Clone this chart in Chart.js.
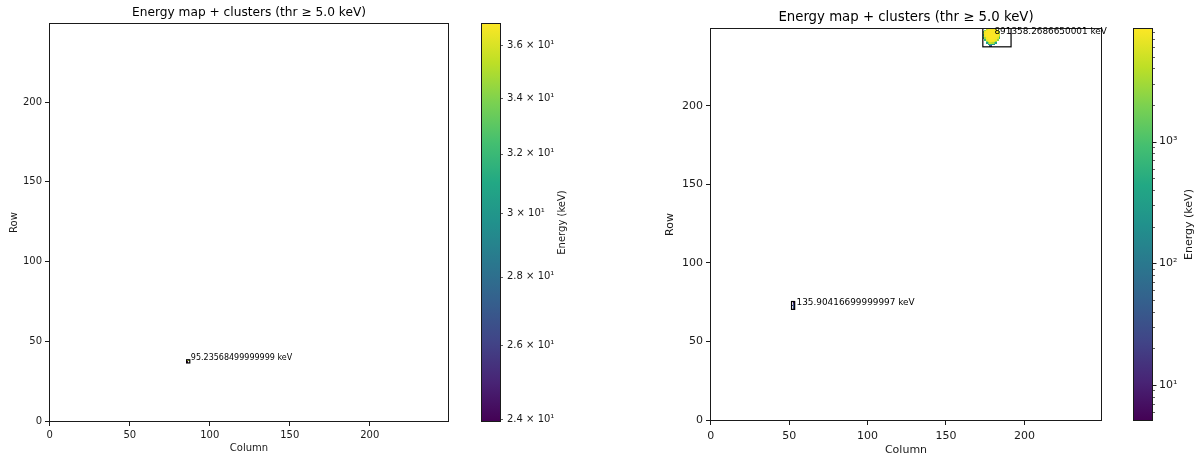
<!DOCTYPE html>
<html>
<head>
<meta charset="utf-8">
<title>Energy map + clusters</title>
<script src="https://cdn.jsdelivr.net/npm/chart.js@4.4.1/dist/chart.umd.min.js"></script>
<style>
  body { margin: 0; background: #fff; }
  #frames { position: relative; width: 1200px; height: 459px; overflow: hidden; }
  #frames canvas { position: absolute; top: 0; }
</style>
</head>
<body>
<div id="frames">
  <canvas id="mapA" width="470" height="459" style="left:0"></canvas>
  <canvas id="barA" width="130" height="459" style="left:470px"></canvas>
  <canvas id="mapB" width="470" height="459" style="left:640px"></canvas>
  <canvas id="barB" width="90" height="459" style="left:1110px"></canvas>
</div>
<script>
const TITLE = 'Energy map + clusters (thr \u2265 5.0 keV)';
const axisTicks = [0, 50, 100, 150, 200];
const AXIS_MIN = -0.5, AXIS_MAX = 249.5;

// frame A: a single small cluster (pixels above threshold)
const aCol = [86, 86, 87];
const aRow = [37, 38, 38];
const aKeV = [23.92, 36.88, 34.435685];
const aCluster = [0, 0, 0];
const aClusterKeV = [95.23568499999999];
const aBarTicks = [24, 26, 28, 30, 32, 34, 36];

// frame B: short track near (53, 73) ...
const bCol = [53, 53, 52, 53, 53, 53];
const bRow = [71, 72, 73, 73, 74, 75];
const bKeV = [19.6, 33.8, 12.4, 41.2, 22.5, 6.404167];
const bCluster = [1, 1, 1, 1, 1, 1];
// ... and the big blob clipped by the top edge, rows 249 down to 238, columns 174..191
const blobCol0 = 174;
const blobRowTop = 249;
const blobGrid = [
  [   0,    0, 5210, 7980, 8420, 8310, 8150, 7640, 6230,    0,    0, 0, 0, 0, 0, 0, 0, 0],
  [   0, 2630, 7850, 8510, 8590, 8470, 8380, 8260, 8120, 4970,    0, 0, 0, 0, 0, 0, 0, 0],
  [1240, 7410, 8330, 8560, 8600, 8540, 8490, 8410, 8320, 7560, 1480, 0, 0, 0, 0, 0, 0, 0],
  [2890, 8020, 8470, 8580, 8600, 8590, 8520, 8450, 8380, 8200, 3870, 0, 0, 0, 0, 0, 0, 5.03],
  [ 410, 7760, 8390, 8570, 8600, 8580, 8540, 8400, 8350, 8090, 4620, 0, 0, 0, 0, 0, 0, 0],
  [1830, 7230, 8250, 8530, 8590, 8560, 8470, 8330, 8290, 7880, 2150, 0, 0, 0, 0, 0, 0, 0],
  [ 260, 3140, 8010, 8420, 8510, 8490, 8380, 8150, 8060, 6480,  880, 0, 0, 0, 0, 0, 0, 0],
  [   0,  690, 7320, 8150, 8360, 8330, 8180, 7710, 7240, 2470,    0, 0, 0, 0, 0, 0, 0, 0],
  [   0,    0, 2260, 7460, 7980, 7890, 7350, 6850, 3050,    0,    0, 0, 0, 0, 0, 0, 0, 0],
  [   0,    0,  340, 1970, 4810, 4350, 3620, 1620,  390,    0,    0, 0, 0, 0, 0, 0, 0, 0],
  [   0,    0,    0,  210,  560,  480,  310,  150,    0,    0,    0, 0, 0, 0, 0, 0, 0, 0],
  [   0,    0,    0,    0,   38,   24,    0,    0,    0,    0,    0, 0, 0, 0, 0, 0, 0, 0]
];
const bClusterKeV = [135.90416699999997, 891358.2686650001];
const bBarMajor = [10, 100, 1000];
const bBarTicks = [6, 7, 8, 9, 10, 20, 30, 40, 50, 60, 70, 80, 90, 100,
  200, 300, 400, 500, 600, 700, 800, 900, 1000, 2000, 3000, 4000, 5000, 6000, 7000, 8000];

// unpack the blob grid into the pixel lists of frame B (cluster 2 -> index 1 of labels)
blobGrid.forEach((line, r) => {
  line.forEach((v, c) => {
    if (v > 0) {
      bCol.push(blobCol0 + c);
      bRow.push(blobRowTop - r);
      bKeV.push(v);
      bCluster.push(2);
    }
  });
});
bCluster.forEach((k, i) => { bCluster[i] = k - 1; });

const viridis = ['#440154', '#482475', '#414487', '#355f8d', '#2a788e', '#21918c',
  '#22a884', '#44bf70', '#7ad151', '#bddf26', '#fde725'];

function hexRgb(h) {
  return [1, 3, 5].map(i => parseInt(h.substr(i, 2), 16));
}

function viridisAt(t) {
  t = Math.min(1, Math.max(0, t)) * (viridis.length - 1);
  const i = Math.min(viridis.length - 2, Math.floor(t));
  const f = t - i;
  const a = hexRgb(viridis[i]), b = hexRgb(viridis[i + 1]);
  const c = a.map((v, j) => Math.round(v + (b[j] - v) * f));
  return `rgb(${c[0]},${c[1]},${c[2]})`;
}

Chart.defaults.font.family = 'DejaVu Sans';
Chart.defaults.color = '#1a1a1a';

// pixels, cluster boxes and energy notes drawn through the chart's own scales
function clusterLayer(frame, noteSize) {
  const vmin = Math.min(...frame.keV), vmax = Math.max(...frame.keV);
  const lo = Math.log(vmin), span = Math.log(vmax) - lo;
  const nClusters = frame.energy.length;
  return {
    id: 'clusterLayer',
    beforeDatasetsDraw(chart) {
      const {ctx, chartArea: ca, scales: {x, y}} = chart;
      ctx.save();
      ctx.beginPath();
      ctx.rect(ca.left, ca.top, ca.width, ca.height);
      ctx.clip();
      frame.col.forEach((c, i) => {
        const r = frame.row[i];
        const x0 = Math.round(x.getPixelForValue(c - 0.5));
        const x1 = Math.round(x.getPixelForValue(c + 0.5));
        const y0 = Math.round(y.getPixelForValue(r + 0.5));
        const y1 = Math.round(y.getPixelForValue(r - 0.5));
        ctx.fillStyle = viridisAt((Math.log(frame.keV[i]) - lo) / span);
        ctx.fillRect(x0, y0, Math.max(1, x1 - x0), Math.max(1, y1 - y0));
      });
      ctx.strokeStyle = '#000';
      ctx.lineWidth = 1.2;
      for (let k = 0; k < nClusters; k++) {
        const idx = frame.cluster.map((q, i) => q === k ? i : -1).filter(i => i >= 0);
        const cs = idx.map(i => frame.col[i]), rs = idx.map(i => frame.row[i]);
        const left = x.getPixelForValue(Math.min(...cs) - 0.5);
        const right = x.getPixelForValue(Math.max(...cs) + 0.5);
        const top = y.getPixelForValue(Math.max(...rs) + 0.5);
        const bottom = y.getPixelForValue(Math.min(...rs) - 0.5);
        ctx.strokeRect(left, top, right - left, bottom - top);
      }
      ctx.restore();
    },
    afterDraw(chart) {
      const {ctx, chartArea: ca, scales: {x, y}} = chart;
      ctx.save();
      ctx.strokeStyle = '#1a1a1a';
      ctx.lineWidth = 1;
      ctx.strokeRect(Math.round(ca.left) + 0.5, Math.round(ca.top) + 0.5,
        Math.round(ca.width) - 1, Math.round(ca.height) - 1);
      ctx.fillStyle = '#000';
      ctx.font = `${noteSize}px "DejaVu Sans"`;
      ctx.textAlign = 'left';
      ctx.textBaseline = 'alphabetic';
      for (let k = 0; k < nClusters; k++) {
        let sw = 0, sc = 0, sr = 0;
        frame.cluster.forEach((q, i) => {
          if (q !== k) return;
          sw += frame.keV[i];
          sc += frame.keV[i] * frame.col[i];
          sr += frame.keV[i] * frame.row[i];
        });
        // note sits just up and right of the energy-weighted centre
        const px = x.getPixelForValue(sc / sw + 1.8);
        const py = y.getPixelForValue(sr / sw + 0.8);
        ctx.fillText(`${frame.energy[k]} keV`, px, py);
      }
      ctx.restore();
    }
  };
}

function mapChart(id, frame, geo) {
  const tickFont = { size: geo.tick };
  return new Chart(document.getElementById(id), {
    type: 'scatter',
    data: {
      datasets: [{
        data: frame.col.map((c, i) => ({ x: c, y: frame.row[i] })),
        pointRadius: 0,
        showLine: false
      }]
    },
    options: {
      responsive: false,
      animation: false,
      events: [],
      layout: { padding: { left: geo.padL, right: geo.padR, top: 0, bottom: 0 } },
      plugins: {
        legend: { display: false },
        tooltip: { enabled: false },
        title: {
          display: true,
          text: TITLE,
          fullSize: false,
          color: '#000',
          font: { size: geo.titleSize, weight: 'normal', lineHeight: 1.2 },
          padding: geo.titlePad
        }
      },
      scales: {
        x: {
          type: 'linear',
          min: AXIS_MIN,
          max: AXIS_MAX,
          afterBuildTicks: s => { s.ticks = axisTicks.map(v => ({ value: v })); },
          afterFit: s => { s.height = geo.xH; },
          border: { display: false },
          grid: { drawOnChartArea: false, tickLength: 4, tickColor: '#1a1a1a', tickWidth: 1 },
          ticks: { font: tickFont, padding: geo.tickPad, maxRotation: 0, autoSkip: false },
          title: { display: true, text: 'Column', font: tickFont, padding: { top: 0, bottom: geo.xTitlePad } }
        },
        y: {
          type: 'linear',
          min: AXIS_MIN,
          max: AXIS_MAX,
          afterBuildTicks: s => { s.ticks = axisTicks.map(v => ({ value: v })); },
          afterFit: s => { s.width = geo.yW; },
          border: { display: false },
          grid: { drawOnChartArea: false, tickLength: 4, tickColor: '#1a1a1a', tickWidth: 1 },
          ticks: { font: tickFont, padding: 3, autoSkip: false },
          title: { display: true, text: 'Row', font: tickFont, padding: { top: 4, bottom: 0 } }
        }
      }
    },
    plugins: [clusterLayer(frame, geo.note)]
  });
}

// colour bar: log-scaled axis on the right, viridis ramp inside the chart area
function barLayer(majors, labelX, labelSize) {
  return {
    id: 'barLayer',
    beforeDraw(chart) {
      const {ctx, chartArea: ca} = chart;
      const g = ctx.createLinearGradient(0, ca.bottom, 0, ca.top);
      viridis.forEach((c, i) => g.addColorStop(i / (viridis.length - 1), c));
      ctx.save();
      ctx.fillStyle = g;
      ctx.fillRect(ca.left, ca.top, ca.width, ca.height);
      ctx.restore();
    },
    afterDraw(chart) {
      const {ctx, chartArea: ca, scales: {y}} = chart;
      ctx.save();
      ctx.strokeStyle = '#1a1a1a';
      ctx.lineWidth = 1;
      ctx.strokeRect(Math.round(ca.left) + 0.5, Math.round(ca.top) + 0.5,
        Math.round(ca.width) - 1, Math.round(ca.height) - 1);
      y.ticks.forEach(t => {
        const py = Math.round(y.getPixelForValue(t.value)) + 0.5;
        const len = majors.includes(t.value) ? 3.5 : 2;
        ctx.lineWidth = majors.includes(t.value) ? 1 : 0.7;
        ctx.beginPath();
        ctx.moveTo(ca.right, py);
        ctx.lineTo(ca.right + len, py);
        ctx.stroke();
      });
      ctx.fillStyle = '#1a1a1a';
      ctx.font = `${labelSize}px "DejaVu Sans"`;
      ctx.textAlign = 'center';
      ctx.textBaseline = 'middle';
      ctx.translate(labelX, (ca.top + ca.bottom) / 2);
      ctx.rotate(-Math.PI / 2);
      ctx.fillText('Energy (keV)', 0, 0);
      ctx.restore();
    }
  };
}

function barChart(id, keV, ticks, majors, fmt, geo) {
  return new Chart(document.getElementById(id), {
    type: 'scatter',
    data: { datasets: [{ data: [] }] },
    options: {
      responsive: false,
      animation: false,
      events: [],
      layout: { padding: { left: geo.padL, right: 0, top: geo.padT, bottom: geo.padB } },
      plugins: { legend: { display: false }, tooltip: { enabled: false } },
      scales: {
        x: { display: false, min: 0, max: 1 },
        y: {
          type: 'logarithmic',
          position: 'right',
          min: Math.min(...keV),
          max: Math.max(...keV),
          afterBuildTicks: s => { s.ticks = ticks.map(v => ({ value: v })); },
          afterFit: s => { s.width = geo.yW; },
          border: { display: false },
          grid: { drawOnChartArea: false, tickLength: 3, tickColor: 'rgba(0,0,0,0)' },
          ticks: { font: { size: geo.tick }, padding: 3, autoSkip: false, callback: fmt }
        }
      }
    },
    plugins: [barLayer(majors, geo.labelX, geo.label)]
  });
}

const supers = { 1: '\u00b9', 2: '\u00b2', 3: '\u00b3' };

mapChart('mapA',
  { col: aCol, row: aRow, keV: aKeV, cluster: aCluster, energy: aClusterKeV },
  { padL: 4, padR: 21, yW: 45, xH: 37, titleSize: 12.2, titlePad: { top: 5.5, bottom: 2.9 },
    tick: 10, tickPad: 3, xTitlePad: 5, note: 8 });

barChart('barA', aKeV, aBarTicks, [],
  v => `${+(v / 10).toFixed(1)} \u00d7 10\u00b9`,
  { padL: 11, padT: 23, padB: 37, yW: 99, tick: 10, labelX: 92, label: 10 });

mapChart('mapB',
  { col: bCol, row: bRow, keV: bKeV, cluster: bCluster, energy: bClusterKeV },
  { padL: 20, padR: 8, yW: 50, xH: 38, titleSize: 13.3, titlePad: { top: 10, bottom: 2 },
    tick: 11, tickPad: 4.5, xTitlePad: 2.4, note: 8.9 });

barChart('barB', bKeV, bBarTicks, bBarMajor,
  v => bBarMajor.includes(v) ? '10' + supers[Math.round(Math.log10(v))] : '',
  { padL: 23, padT: 28, padB: 38, yW: 47, tick: 11, labelX: 79, label: 11 });
</script>
</body>
</html>
